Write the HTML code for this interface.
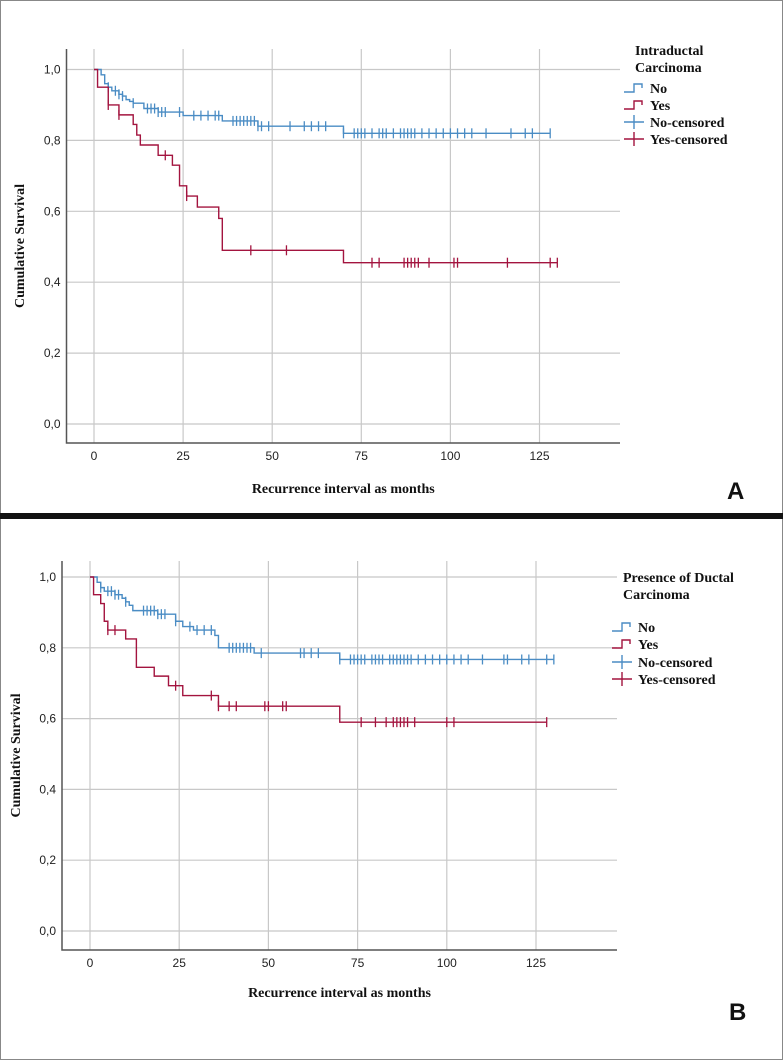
<!DOCTYPE html>
<html><head><meta charset="utf-8"><style>
body{margin:0;width:783px;height:1060px;background:#fff;overflow:hidden;font-family:"Liberation Serif",serif}
svg{display:block}
</style></head><body>
<svg id="fig" width="783" height="1060">
<rect x="0.5" y="0.5" width="782" height="1059" fill="#fff" stroke="#888"/>
<rect x="0" y="513" width="783" height="6" fill="#111"/>
</svg>
<script>
// Panel A data
const aNoT=[0,2,3,4,5,7,8,9,10,11,14,18,25,36,46,70];
const aNoS=[1.0,0.985,0.96,0.95,0.94,0.93,0.925,0.915,0.91,0.905,0.89,0.88,0.87,0.855,0.84,0.82];
const aNoEnd=128;
const aNoCens=[4,6,7,8,11,15,16,17,18,19,20,24,28,30,32,34,35,39,40,41,42,43,44,45,46,47,49,55,59,61,63,65,70,73,74,75,76,78,80,81,82,84,86,87,88,89,90,92,94,96,98,100,102,104,106,110,117,121,123,128];
const aYesT=[0,1,4,7,11,12,13,18,22,24,26,29,35,36,70];
const aYesS=[1.0,0.95,0.90,0.872,0.845,0.815,0.787,0.758,0.73,0.672,0.643,0.612,0.58,0.49,0.455];
const aYesEnd=130;
const aYesCens=[4,7,20,26,44,54,78,80,87,88,89,90,91,94,101,102,116,128,130];
// Panel B data
const bNoT=[0,2,3,4,7,9,10,11,12,19,24,26,29,35,36,46,70];
const bNoS=[1.0,0.985,0.97,0.96,0.95,0.94,0.93,0.92,0.905,0.895,0.875,0.86,0.85,0.835,0.80,0.785,0.767];
const bNoEnd=130;
const bNoCens=[3,5,6,7,8,10,15,16,17,18,19,20,21,24,28,30,32,34,39,40,41,42,43,44,45,48,59,60,62,64,70,73,74,75,76,77,79,80,81,82,84,85,86,87,88,89,90,92,94,96,98,100,102,104,106,110,116,117,121,123,128,130];
const bYesT=[0,1,3,4,5,10,13,18,22,26,36,70];
const bYesS=[1.0,0.95,0.925,0.875,0.85,0.825,0.745,0.72,0.693,0.665,0.635,0.59];
const bYesEnd=128;
const bYesCens=[5,7,24,34,36,39,41,49,50,54,55,76,80,83,85,86,87,88,89,91,100,102,128];
const xTicks=[0,25,50,75,100,125];
const yTicks=[0,0.2,0.4,0.6,0.8,1.0];
const yTickLabels=["0,0","0,2","0,4","0,6","0,8","1,0"];
const legendLabels=["No","Yes","No-censored","Yes-censored"];

const NS="http://www.w3.org/2000/svg";
const svg=document.getElementById('fig');
function mk(tag,attrs,parent,text){const e=document.createElementNS(NS,tag);for(const k in attrs)e.setAttribute(k,attrs[k]);if(text!==undefined)e.textContent=text;(parent||svg).appendChild(e);return e;}
const BLUE="#4a8cc4",RED="#a3143f";
function panel(p){
  const g=mk('g',{});
  
  
  const X=v=>p.x0+(p.x125-p.x0)*v/125;
  const Y=v=>p.y0+(p.y1-p.y0)*v;
  xTicks.forEach(t=>{
    const l=mk('line',{x1:X(t),x2:X(t),y1:p.gtop,y2:p.axB,stroke:"#c8c8c8","stroke-width":1.2},g);
    
    
    const tx=mk('text',{x:X(t),y:p.xlabY,"text-anchor":"middle","font-size":12,"font-family":"Liberation Sans Narrow, Liberation Sans, sans-serif",fill:"#222"},g,String(t));
    
    
  });
  yTicks.forEach((t,i)=>{
    const l=mk('line',{x1:p.axL,x2:p.right,y1:Y(t),y2:Y(t),stroke:"#c8c8c8","stroke-width":1.2},g);
    
    
    const tx=mk('text',{x:p.axL-6,y:Y(t)+4,"text-anchor":"end","font-size":12,"font-family":"Liberation Sans Narrow, Liberation Sans, sans-serif",fill:"#222"},g,yTickLabels[i]);
    
    
  });
  const ax=mk('path',{d:`M${p.axL},${p.gtop} V${p.axB} H${p.right}`,fill:"none",stroke:"#555","stroke-width":1.5},g);
  
  
  function curve(T,S,end,cens,col,name){
    let d=`M${X(T[0])},${Y(S[0])}`;
    for(let i=1;i<T.length;i++){d+=` H${X(T[i])} V${Y(S[i])}`;}
    d+=` H${X(end)}`;
    const pth=mk('path',{d:d,fill:"none",stroke:col,"stroke-width":1.4},g);
    
    
    cens.forEach(c=>{
      let s=S[0];for(let i=0;i<T.length;i++){if(T[i]<=c)s=S[i];}
      const m=mk('path',{d:`M${X(c)},${Y(s)-5} v10`,stroke:col,"stroke-width":1.3},g);
      
      
    });
  }
  curve(p.noT,p.noS,p.noEnd,p.noC,BLUE,'no');
  curve(p.yesT,p.yesS,p.yesEnd,p.yesC,RED,'yes');
  const yt=mk('text',{x:0,y:0,transform:`translate(${p.ytX},${(p.gtop+p.axB)/2}) rotate(-90)`,"text-anchor":"middle","font-size":14,"font-weight":"bold",fill:"#111"},g,"Cumulative Survival");
  
  
  const xt=mk('text',{x:(p.axL+p.right)/2,y:p.xtY,"text-anchor":"middle","font-size":14,"font-weight":"bold",fill:"#111"},g,"Recurrence interval as months");
  
  
  p.legTitle.forEach((s,i)=>{
    const t=mk('text',{x:p.legX,y:p.legTY[i],"font-size":14,"font-weight":"bold",fill:"#111"},g,s);
    
    
  });
  legendLabels.forEach((s,i)=>{
    const y=p.legY[i], col=(i%2==0)?BLUE:RED, sx=p.legX-11;
    let d = i<2 ? `M${sx},${y} h10 v-8 h8 v4` : `M${sx},${y-4} h20 M${sx+10},${y-11} v14`;
    const sym=mk('path',{d:d,fill:"none",stroke:col,"stroke-width":1.4},g);
    
    
    const t=mk('text',{x:p.legX+15,y:y+1,"font-size":14,"font-weight":"bold",fill:"#111"},g,s);
    
    
  });
  const L=mk('text',{x:p.letX,y:p.letY,"font-size":24,"font-weight":"bold","font-family":"Liberation Sans, sans-serif",fill:"#111"},g,p.id);
  
  
}
panel({id:"A",x0:94,x125:539.5,y0:424,y1:69.5,axL:66.5,axB:443,right:620,gtop:49,xlabY:460,xtY:493,ytX:24,
  legX:635,legTitle:["Intraductal","Carcinoma"],legTY:[55,72],legY:[92,109,126,143],letX:727,letY:499,
  noT:aNoT,noS:aNoS,noEnd:aNoEnd,noC:aNoCens,yesT:aYesT,yesS:aYesS,yesEnd:aYesEnd,yesC:aYesCens});
panel({id:"B",x0:90,x125:536,y0:931,y1:577,axL:62,axB:950,right:617,gtop:561,xlabY:967,xtY:997,ytX:20,
  legX:623,legTitle:["Presence of Ductal","Carcinoma"],legTY:[582,599],legY:[631,648,666,683],letX:729,letY:1020,
  noT:bNoT,noS:bNoS,noEnd:bNoEnd,noC:bNoCens,yesT:bYesT,yesS:bYesS,yesEnd:bYesEnd,yesC:bYesCens});
</script>
</body></html>
